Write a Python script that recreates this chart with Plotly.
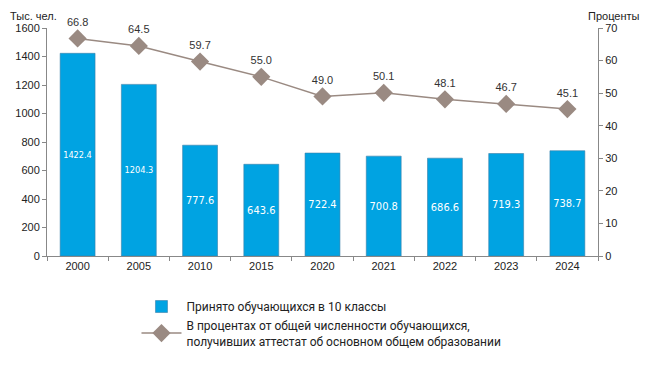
import plotly.graph_objects as go

years = ["2000", "2005", "2010", "2015", "2020", "2021", "2022", "2023", "2024"]
admitted = [1422.4, 1204.3, 777.6, 643.6, 722.4, 700.8, 686.6, 719.3, 738.7]
percent = [66.8, 64.5, 59.7, 55.0, 49.0, 50.1, 48.1, 46.7, 45.1]
left_ticks = [0, 200, 400, 600, 800, 1000, 1200, 1400, 1600]
right_ticks = [0, 10, 20, 30, 40, 50, 60, 70]

bar_name = "Принято обучающихся в 10 классы"
line_name = "В процентах от общей численности обучающихся,<br>получивших аттестат об основном общем образовании"

bar_label_sizes = [10 if v >= 1000 else 11 for v in admitted]

fig = go.Figure()
fig.add_trace(go.Bar(
    x=years, y=admitted, name=bar_name,
    marker=dict(color="#00A3E2", line=dict(color="#3a7fa8", width=0.6)),
    width=0.57,
    text=[f"{v:.1f}" for v in admitted], textposition="inside",
    insidetextanchor="middle", textangle=0,
    textfont=dict(color="white", size=bar_label_sizes, family="DejaVu Sans Condensed"),
    yaxis="y",
))
fig.add_trace(go.Scatter(
    x=years, y=percent, name=line_name, mode="lines+markers+text",
    line=dict(color="#9A8A82", width=1.5),
    marker=dict(symbol="diamond", size=14, color="#9A8A82"),
    text=[f"{v:.1f}" for v in percent], textposition="top center",
    textfont=dict(color="#333333", size=11, family="Liberation Sans"),
    yaxis="y2", cliponaxis=False,
))

axis_common = dict(showgrid=False, zeroline=False, showline=True, linecolor="#888888",
                   ticks="outside", ticklen=4, tickcolor="#888888",
                   tickfont=dict(size=11, color="#222222", family="Liberation Sans"))
fig.update_layout(
    width=634, height=351,
    margin=dict(l=39, r=44, t=20, b=103, autoexpand=False),
    plot_bgcolor="white", paper_bgcolor="white",
    showlegend=True,
    xaxis=dict(showgrid=False, showline=True, linecolor="#888888", ticks="outside",
               ticklen=4, tickcolor="#888888", tickson="boundaries",
               tickfont=dict(size=11, color="#222222", family="Liberation Sans"),
               range=[-0.5, 8.5]),
    yaxis=dict(range=[0, 1600], tickvals=left_ticks, **axis_common),
    yaxis2=dict(range=[0, 70], tickvals=right_ticks, overlaying="y", side="right", **axis_common),
    legend=dict(x=0.1624, y=-0.158, xanchor="left", yanchor="top", orientation="v",
                font=dict(size=12, color="#222222", family="Roboto"),
                itemwidth=40, tracegroupgap=10, bgcolor="rgba(0,0,0,0)"),
    annotations=[
        dict(text="Тыс. чел.", xref="paper", yref="paper", x=-0.0708, y=1.0877,
             xanchor="left", yanchor="top", showarrow=False,
             font=dict(size=11, color="#222222", family="Liberation Sans")),
        dict(text="Проценты", xref="paper", yref="paper", x=1.0799, y=1.0877,
             xanchor="right", yanchor="top", showarrow=False,
             font=dict(size=11, color="#222222", family="Liberation Sans")),
    ],
)
fig.write_html("out.html")
